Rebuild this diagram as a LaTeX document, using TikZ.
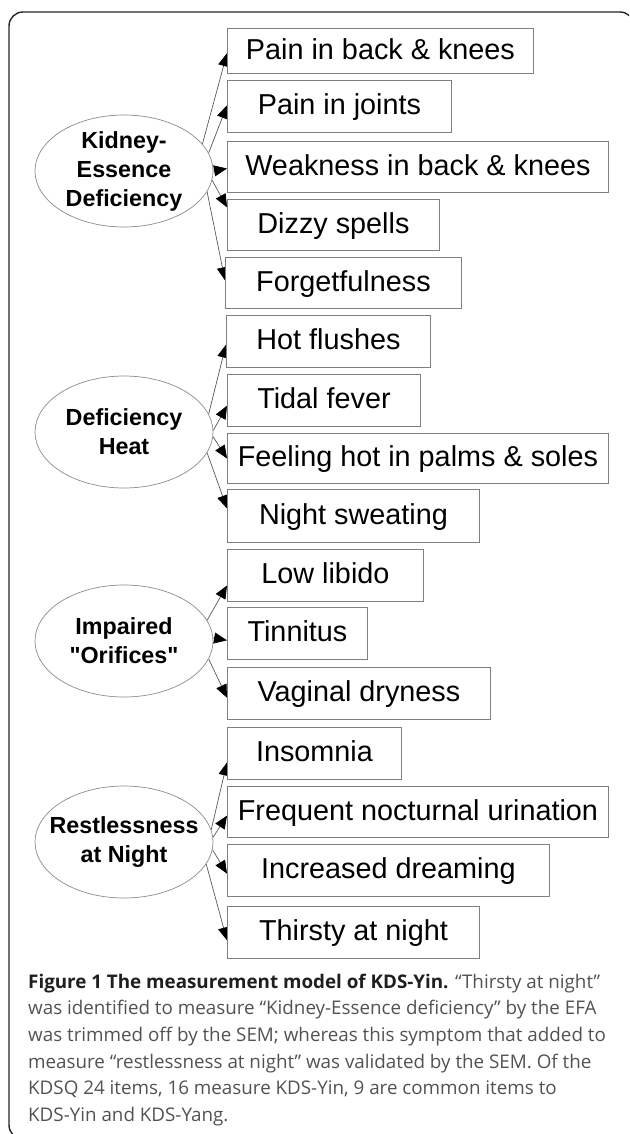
\documentclass[tikz,border=0pt]{standalone}
\usepackage{fontspec}
\setmainfont{Liberation Sans}
\newfontfamily\capfont{Open Sans}
\usetikzlibrary{shapes.geometric,arrows.meta,calc,backgrounds}
\begin{document}
\begin{tikzpicture}[x=1pt,y=-1pt,
  latent/.style={ellipse,draw=black!45,line width=0.7pt,fill=white,minimum width=178pt,minimum height=112pt,inner sep=0pt},
  latentlabel/.style={align=center,font=\bfseries\fontsize{23.3}{29}\selectfont,inner sep=0pt},
  item/.style={draw=black!50,line width=0.9pt,fill=white,anchor=north west,inner sep=0pt,text height=17pt,text depth=0pt,font=\fontsize{28.8}{34}\selectfont},
  load/.style={draw=black!65,line width=0.7pt,-{Triangle[length=13pt,width=11pt,color=black]}},
  capline/.style={anchor=base west,inner sep=0pt,font=\capfont\fontsize{18.8}{26.7}\selectfont,text=black!68},
  frame/.style={draw=black!85,line width=1.4pt,rounded corners=14pt}]
\useasboundingbox (0,0) rectangle (629,1134);
\clip (0,0) rectangle (629,1134);
\draw[frame] (9,12) rectangle (634,1139);

% latent variables
\node[latent] (ked) at (124,171) {};
\node[latentlabel] (kedl) at (ked) {Kidney-\\Essence\\Deficiency};
\node[latent] (dh) at (124,432) {};
\node[latentlabel] (dhl) at (dh) {Deficiency\\Heat};
\node[latent] (io) at (124,641) {};
\node[latentlabel] (iol) at (io) {Impaired\\\textquotedbl Orifices\textquotedbl};
\node[latent] (rn) at (124,842) {};
\node[latentlabel] (rnl) at (rn) {Restlessness\\at Night};

% items
\node[item,minimum width=306pt,minimum height=45pt] (b1) at (227,28) {Pain in back \& knees};
\node[item,minimum width=224pt,minimum height=52pt] (b2) at (227,80) {Pain in joints};
\node[item,minimum width=381pt,minimum height=51pt] (b3) at (227,141) {Weakness in back \& knees};
\node[item,minimum width=212pt,minimum height=51pt] (b4) at (227,199) {Dizzy spells};
\node[item,minimum width=236pt,minimum height=51pt] (b5) at (225,257) {Forgetfulness};
\node[item,minimum width=204pt,minimum height=52pt] (b6) at (226,315) {Hot flushes};
\node[item,minimum width=193pt,minimum height=52pt] (b7) at (227,374) {Tidal fever};
\node[item,minimum width=381pt,minimum height=50pt] (b8) at (227,433) {Feeling hot in palms \& soles};
\node[item,minimum width=252pt,minimum height=53pt] (b9) at (227,489) {Night sweating};
\node[item,minimum width=196pt,minimum height=52pt] (b10) at (227,549) {Low libido};
\node[item,minimum width=140pt,minimum height=52pt] (b11) at (227,607) {Tinnitus};
\node[item,minimum width=263pt,minimum height=52pt] (b12) at (227,667) {Vaginal dryness};
\node[item,minimum width=174pt,minimum height=52pt] (b13) at (227,727) {Insomnia};
\node[item,minimum width=381pt,minimum height=51pt] (b14) at (227,786) {Frequent nocturnal urination};
\node[item,minimum width=322pt,minimum height=52pt] (b15) at (227,844) {Increased dreaming};
\node[item,minimum width=252pt,minimum height=52pt] (b16) at (227,906) {Thirsty at night};

% loadings
\begin{scope}[on background layer]
\draw[load] (ked.19.5) -- ($(b1.north west)!0.55!(b1.south west)$);
\draw[load] (ked.12) -- ($(b2.north west)!0.48!(b2.south west)$);
\draw[load] (ked.0) -- ($(b3.north west)!0.53!(b3.south west)$);
\draw[load] (ked.-6) -- ($(b4.north west)!0.16!(b4.south west)$);
\draw[load] (ked.-14) -- ($(b5.north west)!0.45!(b5.south west)$);
\draw[load] (dh.12.7) -- ($(b6.north west)!0.56!(b6.south west)$);
\draw[load] (dh.1) -- ($(b7.north west)!0.6!(b7.south west)$);
\draw[load] (dh.-3) -- ($(b8.north west)!0.5!(b8.south west)$);
\draw[load] (dh.-14) -- ($(b9.north west)!0.36!(b9.south west)$);
\draw[load] (io.14) -- ($(b10.north west)!0.69!(b10.south west)$);
\draw[load] (io.2) -- ($(b11.north west)!0.63!(b11.south west)$);
\draw[load] (io.-12.5) -- ($(b12.north west)!0.58!(b12.south west)$);
\draw[load] (rn.8) -- ($(b13.north west)!0.67!(b13.south west)$);
\draw[load] (rn.3) -- ($(b14.north west)!0.57!(b14.south west)$);
\draw[load] (rn.-5) -- ($(b15.north west)!0.56!(b15.south west)$);
\draw[load] (rn.-15) -- ($(b16.north west)!0.65!(b16.south west)$);
\end{scope}

% caption
\node[capline] (c1) at (28,988) {{\bfseries\color{black!88}Figure 1 The measurement model of KDS-Yin.} “Thirsty at night”};
\node[capline] (c2) at (28,1014.7) {was identified to measure “Kidney-Essence deficiency” by the EFA};
\node[capline] (c3) at (28,1041.4) {was trimmed off by the SEM; whereas this symptom that added to};
\node[capline] (c4) at (28,1068.1) {measure “restlessness at night” was validated by the SEM. Of the};
\node[capline] (c5) at (28,1094.8) {KDSQ 24 items, 16 measure KDS-Yin, 9 are common items to};
\node[capline] (c6) at (28,1121.5) {KDS-Yin and KDS-Yang.};
\end{tikzpicture}
\end{document}
